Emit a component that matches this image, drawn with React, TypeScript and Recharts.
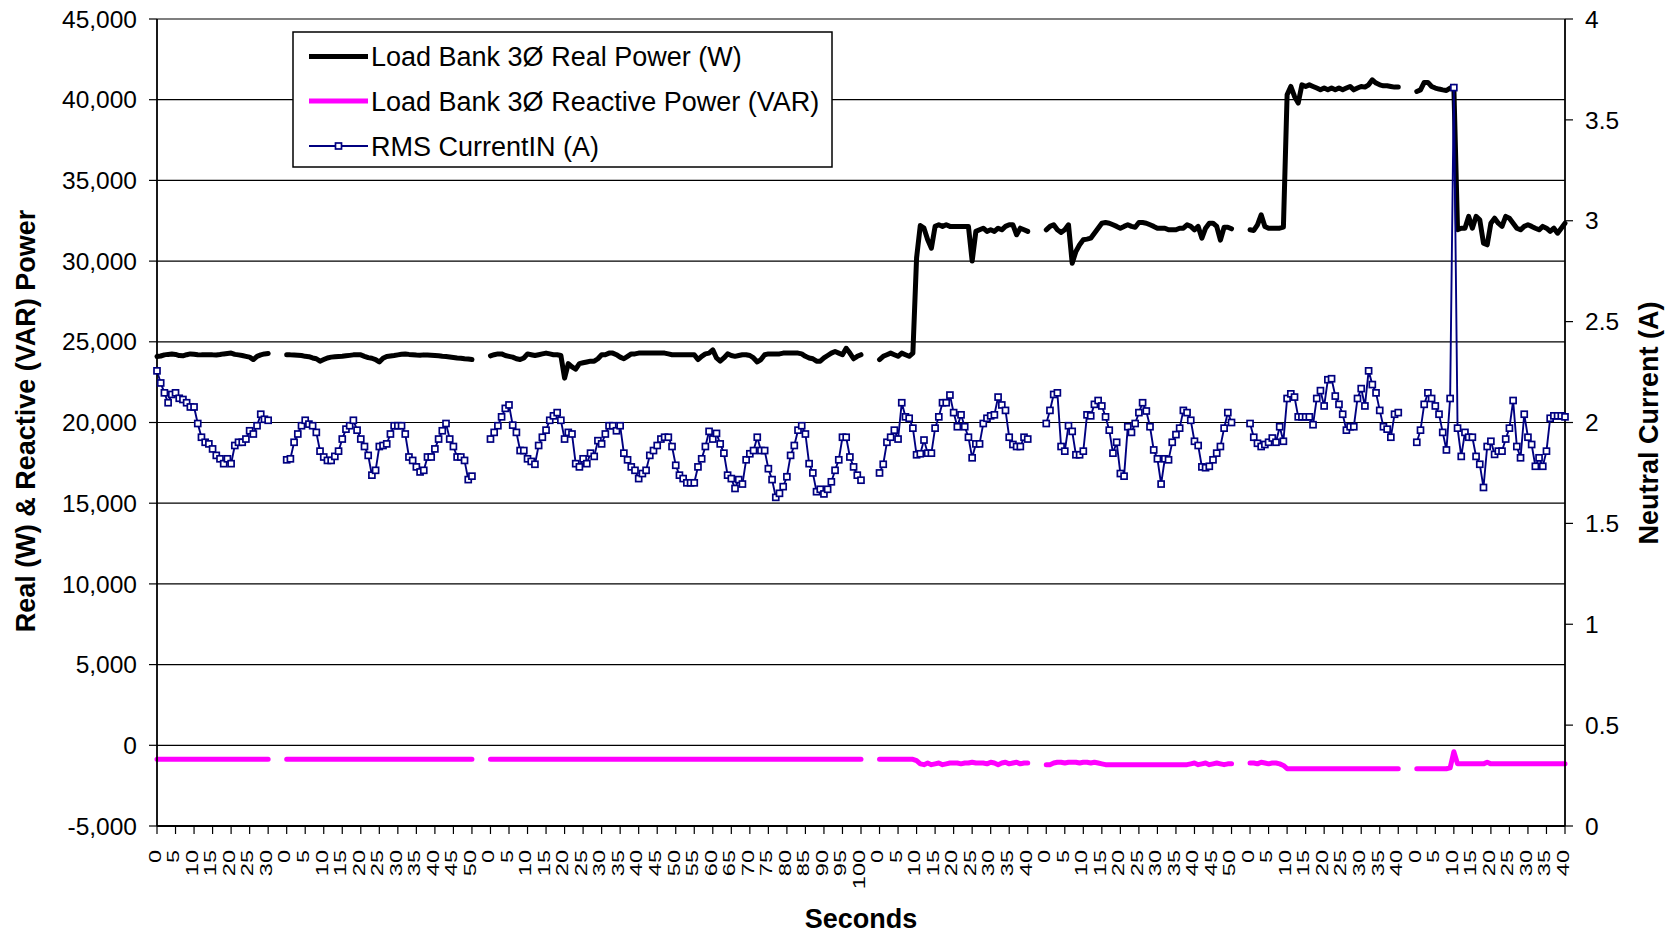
import React from 'react';
import { LineChart, Line, XAxis, YAxis, CartesianGrid } from 'recharts';

const FONT = '"Liberation Sans", Arial, Helvetica, sans-serif';

// Duration (s) of each recorded run; every run restarts its clock at 0 s
const runSeconds = [30, 50, 100, 40, 50, 40, 40];

// Load Bank 3Ø Real Power (W), one value per second
const realRun1 = [24090, 24120, 24190, 24220, 24240, 24220, 24150, 24130, 24200, 24250, 24230, 24200, 24190, 24190, 24190, 24190, 24180, 24210, 24250, 24280, 24300, 24220, 24190, 24150, 24100, 24050, 23900, 24100, 24190, 24250, 24280];
const realRun2 = [24190, 24190, 24180, 24170, 24150, 24100, 24080, 24000, 23950, 23800, 23900, 24000, 24050, 24070, 24090, 24100, 24130, 24160, 24190, 24190, 24190, 24100, 24020, 23980, 23900, 23750, 23980, 24090, 24120, 24150, 24190, 24230, 24250, 24220, 24200, 24180, 24170, 24190, 24180, 24170, 24150, 24130, 24100, 24090, 24060, 24030, 24000, 23980, 23950, 23930, 23900];
const realRun3 = [24130, 24200, 24250, 24250, 24150, 24100, 24050, 23950, 23900, 24000, 24250, 24200, 24150, 24200, 24250, 24300, 24250, 24200, 24200, 24150, 22750, 23650, 23450, 23300, 23650, 23700, 23750, 23800, 23800, 23950, 24200, 24200, 24300, 24300, 24200, 24050, 23950, 24100, 24250, 24250, 24300, 24300, 24300, 24300, 24300, 24300, 24300, 24300, 24250, 24200, 24200, 24200, 24200, 24200, 24200, 24200, 23900, 24100, 24250, 24300, 24500, 24000, 23800, 24000, 24250, 24150, 24100, 24150, 24200, 24200, 24150, 24000, 23750, 23900, 24200, 24250, 24250, 24250, 24250, 24300, 24300, 24300, 24300, 24300, 24250, 24100, 24000, 23950, 23800, 23800, 24000, 24150, 24300, 24400, 24300, 24200, 24600, 24300, 23950, 24100, 24200];
const realRun4 = [23900, 24100, 24200, 24300, 24200, 24100, 24300, 24200, 24100, 24300, 30200, 32200, 32040, 31320, 30800, 32150, 32250, 32150, 32250, 32150, 32150, 32150, 32150, 32150, 32150, 30000, 31840, 31940, 32040, 31840, 31940, 31840, 32040, 31940, 32150, 32250, 32250, 31630, 32040, 31940, 31840];
const realRun5 = [31940, 32150, 32250, 31940, 31780, 31940, 32250, 29870, 30600, 31010, 31320, 31360, 31420, 31730, 32040, 32350, 32390, 32350, 32250, 32150, 32040, 32150, 32250, 32150, 32100, 32390, 32390, 32350, 32250, 32150, 32040, 32040, 32040, 31940, 31940, 31940, 32040, 32040, 32250, 32150, 31940, 32150, 31420, 32040, 32350, 32350, 32150, 31300, 32100, 32100, 32000];
const realRun6 = [31940, 31900, 32250, 32870, 32150, 32040, 32040, 32040, 32040, 32100, 40300, 40820, 40200, 39790, 40920, 40820, 40920, 40820, 40720, 40610, 40720, 40610, 40720, 40610, 40720, 40610, 40720, 40820, 40610, 40720, 40820, 40780, 40920, 41230, 41030, 40920, 40860, 40860, 40820, 40780, 40780];
const realRun7 = [40510, 40610, 41070, 41070, 40820, 40720, 40660, 40610, 40570, 40720, 40820, 31940, 32040, 32040, 32770, 32040, 32770, 32560, 31110, 31010, 32350, 32660, 32350, 32150, 32770, 32660, 32350, 32040, 31940, 32150, 32250, 32150, 32040, 31940, 32150, 32040, 31840, 32040, 31730, 32040, 32350];

// Load Bank 3Ø Reactive Power (VAR)
const reactiveRun1 = [-870, -870, -870, -870, -870, -870, -870, -870, -870, -870, -870, -870, -870, -870, -870, -870, -870, -870, -870, -870, -870, -870, -870, -870, -870, -870, -870, -870, -870, -870, -870];
const reactiveRun2 = [-870, -870, -870, -870, -870, -870, -870, -870, -870, -870, -870, -870, -870, -870, -870, -870, -870, -870, -870, -870, -870, -870, -870, -870, -870, -870, -870, -870, -870, -870, -870, -870, -870, -870, -870, -870, -870, -870, -870, -870, -870, -870, -870, -870, -870, -870, -870, -870, -870, -870, -870];
const reactiveRun3 = [-870, -870, -870, -870, -870, -870, -870, -870, -870, -870, -870, -870, -870, -870, -870, -870, -870, -870, -870, -870, -870, -870, -870, -870, -870, -870, -870, -870, -870, -870, -870, -870, -870, -870, -870, -870, -870, -870, -870, -870, -870, -870, -870, -870, -870, -870, -870, -870, -870, -870, -870, -870, -870, -870, -870, -870, -870, -870, -870, -870, -870, -870, -870, -870, -870, -870, -870, -870, -870, -870, -870, -870, -870, -870, -870, -870, -870, -870, -870, -870, -870, -870, -870, -870, -870, -870, -870, -870, -870, -870, -870, -870, -870, -870, -870, -870, -870, -870, -870, -870, -870];
const reactiveRun4 = [-870, -870, -870, -870, -870, -870, -870, -870, -870, -870, -950, -1150, -1200, -1100, -1200, -1150, -1100, -1200, -1150, -1100, -1100, -1100, -1150, -1100, -1100, -1050, -1100, -1100, -1100, -1150, -1050, -1100, -1200, -1100, -1050, -1150, -1100, -1050, -1150, -1100, -1100];
const reactiveRun5 = [-1200, -1200, -1100, -1050, -1050, -1100, -1050, -1050, -1050, -1100, -1050, -1050, -1100, -1050, -1100, -1150, -1200, -1200, -1200, -1200, -1200, -1200, -1200, -1200, -1200, -1200, -1200, -1200, -1200, -1200, -1200, -1200, -1200, -1200, -1200, -1200, -1200, -1200, -1200, -1150, -1100, -1200, -1150, -1100, -1200, -1150, -1100, -1150, -1200, -1150, -1150];
const reactiveRun6 = [-1100, -1100, -1150, -1050, -1100, -1150, -1100, -1100, -1150, -1250, -1450, -1450, -1450, -1450, -1450, -1450, -1450, -1450, -1450, -1450, -1450, -1450, -1450, -1450, -1450, -1450, -1450, -1450, -1450, -1450, -1450, -1450, -1450, -1450, -1450, -1450, -1450, -1450, -1450, -1450, -1450];
const reactiveRun7 = [-1450, -1450, -1450, -1450, -1450, -1450, -1450, -1450, -1450, -1400, -400, -1150, -1150, -1150, -1150, -1150, -1150, -1150, -1150, -1050, -1150, -1150, -1150, -1150, -1150, -1150, -1150, -1150, -1150, -1150, -1150, -1150, -1150, -1150, -1150, -1150, -1150, -1150, -1150, -1150, -1150];

// RMS CurrentIN (A) — right axis
const currentRun1 = [2.256, 2.196, 2.147, 2.098, 2.139, 2.147, 2.12, 2.114, 2.098, 2.077, 2.077, 1.995, 1.927, 1.902, 1.894, 1.869, 1.837, 1.82, 1.796, 1.82, 1.796, 1.886, 1.902, 1.902, 1.918, 1.959, 1.943, 1.984, 2.041, 2.016, 2.011];
const currentRun2 = [1.815, 1.82, 1.902, 1.943, 1.984, 2.011, 1.992, 1.984, 1.951, 1.858, 1.829, 1.812, 1.812, 1.832, 1.858, 1.918, 1.967, 1.984, 2.011, 1.962, 1.918, 1.881, 1.837, 1.739, 1.763, 1.881, 1.886, 1.894, 1.943, 1.984, 1.984, 1.984, 1.943, 1.829, 1.812, 1.78, 1.755, 1.763, 1.829, 1.829, 1.869, 1.918, 1.959, 1.995, 1.918, 1.881, 1.829, 1.829, 1.812, 1.717, 1.734];
const currentRun3 = [1.918, 1.951, 1.984, 2.028, 2.07, 2.087, 1.987, 1.951, 1.861, 1.861, 1.82, 1.807, 1.793, 1.886, 1.927, 1.962, 2.011, 2.033, 2.049, 2.011, 1.918, 1.951, 1.943, 1.796, 1.78, 1.82, 1.796, 1.848, 1.832, 1.91, 1.894, 1.943, 1.984, 1.984, 1.959, 1.984, 1.848, 1.815, 1.78, 1.763, 1.722, 1.747, 1.763, 1.837, 1.861, 1.886, 1.918, 1.927, 1.927, 1.881, 1.788, 1.739, 1.722, 1.701, 1.701, 1.701, 1.78, 1.82, 1.881, 1.956, 1.918, 1.946, 1.894, 1.848, 1.739, 1.722, 1.673, 1.717, 1.695, 1.815, 1.845, 1.861, 1.927, 1.861, 1.861, 1.771, 1.717, 1.629, 1.649, 1.682, 1.731, 1.837, 1.886, 1.962, 1.984, 1.943, 1.796, 1.75, 1.657, 1.669, 1.646, 1.669, 1.706, 1.763, 1.815, 1.927, 1.927, 1.829, 1.78, 1.739, 1.714];
const currentRun4 = [1.75, 1.793, 1.902, 1.927, 1.962, 1.918, 2.098, 2.028, 2.021, 1.972, 1.84, 1.845, 1.913, 1.848, 1.848, 1.972, 2.028, 2.098, 2.098, 2.136, 2.049, 1.979, 2.038, 1.979, 1.927, 1.825, 1.894, 1.894, 1.995, 2.021, 2.033, 2.038, 2.126, 2.087, 2.06, 1.927, 1.891, 1.881, 1.881, 1.927, 1.918];
const currentRun5 = [1.995, 2.06, 2.139, 2.147, 1.881, 1.858, 1.984, 1.956, 1.84, 1.84, 1.858, 2.038, 2.033, 2.09, 2.109, 2.082, 2.028, 1.962, 1.848, 1.902, 1.747, 1.734, 1.979, 1.951, 1.995, 2.049, 2.098, 2.057, 1.979, 1.864, 1.82, 1.695, 1.82, 1.815, 1.902, 1.94, 1.972, 2.06, 2.049, 2.011, 1.907, 1.886, 1.78, 1.776, 1.783, 1.815, 1.848, 1.881, 1.972, 2.049, 2.0];
const currentRun6 = [1.995, 1.927, 1.897, 1.881, 1.891, 1.902, 1.923, 1.902, 1.979, 1.907, 2.119, 2.142, 2.126, 2.028, 2.028, 2.028, 2.028, 1.989, 2.119, 2.158, 2.082, 2.212, 2.217, 2.131, 2.09, 2.041, 1.962, 1.979, 1.979, 2.119, 2.168, 2.082, 2.256, 2.188, 2.147, 2.06, 1.979, 1.967, 1.927, 2.041, 2.049];
const currentRun7 = [1.902, 1.962, 2.09, 2.147, 2.119, 2.082, 2.041, 1.951, 1.864, 2.119, 3.66, 1.972, 1.832, 1.951, 1.927, 1.927, 1.832, 1.793, 1.678, 1.881, 1.907, 1.842, 1.858, 1.858, 1.918, 1.972, 2.109, 1.881, 1.825, 2.041, 1.927, 1.891, 1.783, 1.825, 1.783, 1.858, 2.021, 2.033, 2.033, 2.033, 2.028];

const leftTicks = [-5000, 0, 5000, 10000, 15000, 20000, 25000, 30000, 35000, 40000, 45000];
const rightTicks = [0, 0.5, 1, 1.5, 2, 2.5, 3, 3.5, 4];

const realRuns = [realRun1, realRun2, realRun3, realRun4, realRun5, realRun6, realRun7];
const reactiveRuns = [reactiveRun1, reactiveRun2, reactiveRun3, reactiveRun4, reactiveRun5, reactiveRun6, reactiveRun7];
const currentRuns = [currentRun1, currentRun2, currentRun3, currentRun4, currentRun5, currentRun6, currentRun7];

// blank category rows between runs (break the lines)
const GAP_ROWS = 4;

type Row = { x: number; real: number | null; reactive: number | null; current: number | null };
const rows: Row[] = [];
const tickLabel: Record<number, string> = {};
let pos = 0;
runSeconds.forEach((dur, r) => {
  for (let t = 0; t <= dur; t++) {
    rows.push({ x: pos, real: realRuns[r][t], reactive: reactiveRuns[r][t], current: currentRuns[r][t] });
    tickLabel[pos] = String(t);
    pos++;
  }
  if (r < runSeconds.length - 1) {
    for (let g = 0; g < GAP_ROWS; g++) {
      rows.push({ x: pos, real: null, reactive: null, current: null });
      tickLabel[pos] = '';
      pos++;
    }
  }
});
const lastX = pos - 1;
const xTicks: number[] = [];
for (let i = 0; i <= lastX; i += 5) xTicks.push(i);

const W = 1671;
const H = 933;

const XTick = (props: any) => {
  const { x, y, payload } = props;
  const label = tickLabel[payload.value] ?? '';
  return (
    <text
      transform={`translate(${x + 3.8},${y}) rotate(-90) scale(1,0.74)`}
      textAnchor="end"
      fontSize={23.5}
      fontFamily={FONT}
      fill="#000"
    >
      {label}
    </text>
  );
};

const SquareDot = (props: any) => {
  const { cx, cy, index } = props;
  if (cx == null || cy == null || Number.isNaN(cy)) return <g key={`d${index}`} />;
  return (
    <rect key={`d${index}`} x={cx - 3} y={cy - 3} width={6} height={6} fill="#fff" stroke="#000080" strokeWidth={1.7} />
  );
};

export default function App() {
  return (
    <div style={{ position: 'absolute', left: 0, top: 0, width: W, height: H, background: '#fff' }}>
      <LineChart width={W} height={H} data={rows} margin={{ top: 19, right: 0, bottom: 0, left: 0 }}>
        <CartesianGrid vertical={false} yAxisId="left" stroke="#000" strokeWidth={1.2} />
        <XAxis
          dataKey="x"
          type="number"
          domain={[0, lastX]}
          ticks={xTicks}
          interval={0}
          tick={XTick}
          height={107}
          tickSize={8}
          tickMargin={16}
          axisLine={{ stroke: '#000', strokeWidth: 1.8 }}
          tickLine={{ stroke: '#000', strokeWidth: 1.2 }}
        />
        <YAxis
          yAxisId="left"
          domain={[-5000, 45000]}
          ticks={leftTicks}
          interval={0}
          width={157}
          tickSize={8}
          tickMargin={12}
          tickFormatter={(v: number) => v.toLocaleString('en-US')}
          tick={{ fontSize: 24.5, fill: '#000', fontFamily: FONT }}
          axisLine={{ stroke: '#000', strokeWidth: 1.8 }}
          tickLine={{ stroke: '#000', strokeWidth: 1.2 }}
        />
        <YAxis
          yAxisId="right"
          orientation="right"
          domain={[0, 4]}
          ticks={rightTicks}
          interval={0}
          width={106}
          tickSize={8}
          tickMargin={12}
          tickFormatter={(v: number) => String(v)}
          tick={{ fontSize: 24.5, fill: '#000', fontFamily: FONT }}
          axisLine={{ stroke: '#000', strokeWidth: 1.8 }}
          tickLine={{ stroke: '#000', strokeWidth: 1.2 }}
        />
        <Line
          yAxisId="left"
          dataKey="real"
          type="linear"
          stroke="#000"
          strokeWidth={5}
          strokeLinejoin="round"
          strokeLinecap="round"
          dot={false}
          activeDot={false}
          connectNulls={false}
          isAnimationActive={false}
        />
        <Line
          yAxisId="left"
          dataKey="reactive"
          type="linear"
          stroke="#FF00FF"
          strokeWidth={5}
          strokeLinejoin="round"
          strokeLinecap="round"
          dot={false}
          activeDot={false}
          connectNulls={false}
          isAnimationActive={false}
        />
        <Line
          yAxisId="right"
          dataKey="current"
          type="linear"
          stroke="#000080"
          strokeWidth={1.9}
          dot={SquareDot}
          activeDot={false}
          connectNulls={false}
          isAnimationActive={false}
        />
      </LineChart>
      <svg
        width={W}
        height={H}
        style={{ position: 'absolute', left: 0, top: 0, pointerEvents: 'none' }}
        fontFamily={FONT}
      >
        <text
          transform="translate(35,421) rotate(-90)"
          textAnchor="middle"
          fontSize={27}
          fontWeight="bold"
          fill="#000"
        >
          Real (W) &amp; Reactive (VAR) Power
        </text>
        <text
          transform="translate(1658,423) rotate(-90)"
          textAnchor="middle"
          fontSize={27}
          fontWeight="bold"
          fill="#000"
        >
          Neutral Current (A)
        </text>
        <text x={861} y={928} textAnchor="middle" fontSize={27} fontWeight="bold" fill="#000">
          Seconds
        </text>
        <g>
          <rect x={293} y={32} width={539} height={135} fill="#fff" stroke="#000" strokeWidth={1.5} />
          <line x1={309} y1={56.5} x2={368} y2={56.5} stroke="#000" strokeWidth={5} />
          <text x={371} y={66} fontSize={27} fill="#000">Load Bank 3Ø Real Power (W)</text>
          <line x1={309} y1={101} x2={368} y2={101} stroke="#FF00FF" strokeWidth={5} />
          <text x={371} y={110.5} fontSize={27} fill="#000">Load Bank 3Ø Reactive Power (VAR)</text>
          <line x1={309} y1={146} x2={368} y2={146} stroke="#000080" strokeWidth={1.9} />
          <rect x={335.5} y={143} width={6} height={6} fill="#fff" stroke="#000080" strokeWidth={1.7} />
          <text x={371} y={155.5} fontSize={27} fill="#000">RMS CurrentIN (A)</text>
        </g>
      </svg>
    </div>
  );
}
